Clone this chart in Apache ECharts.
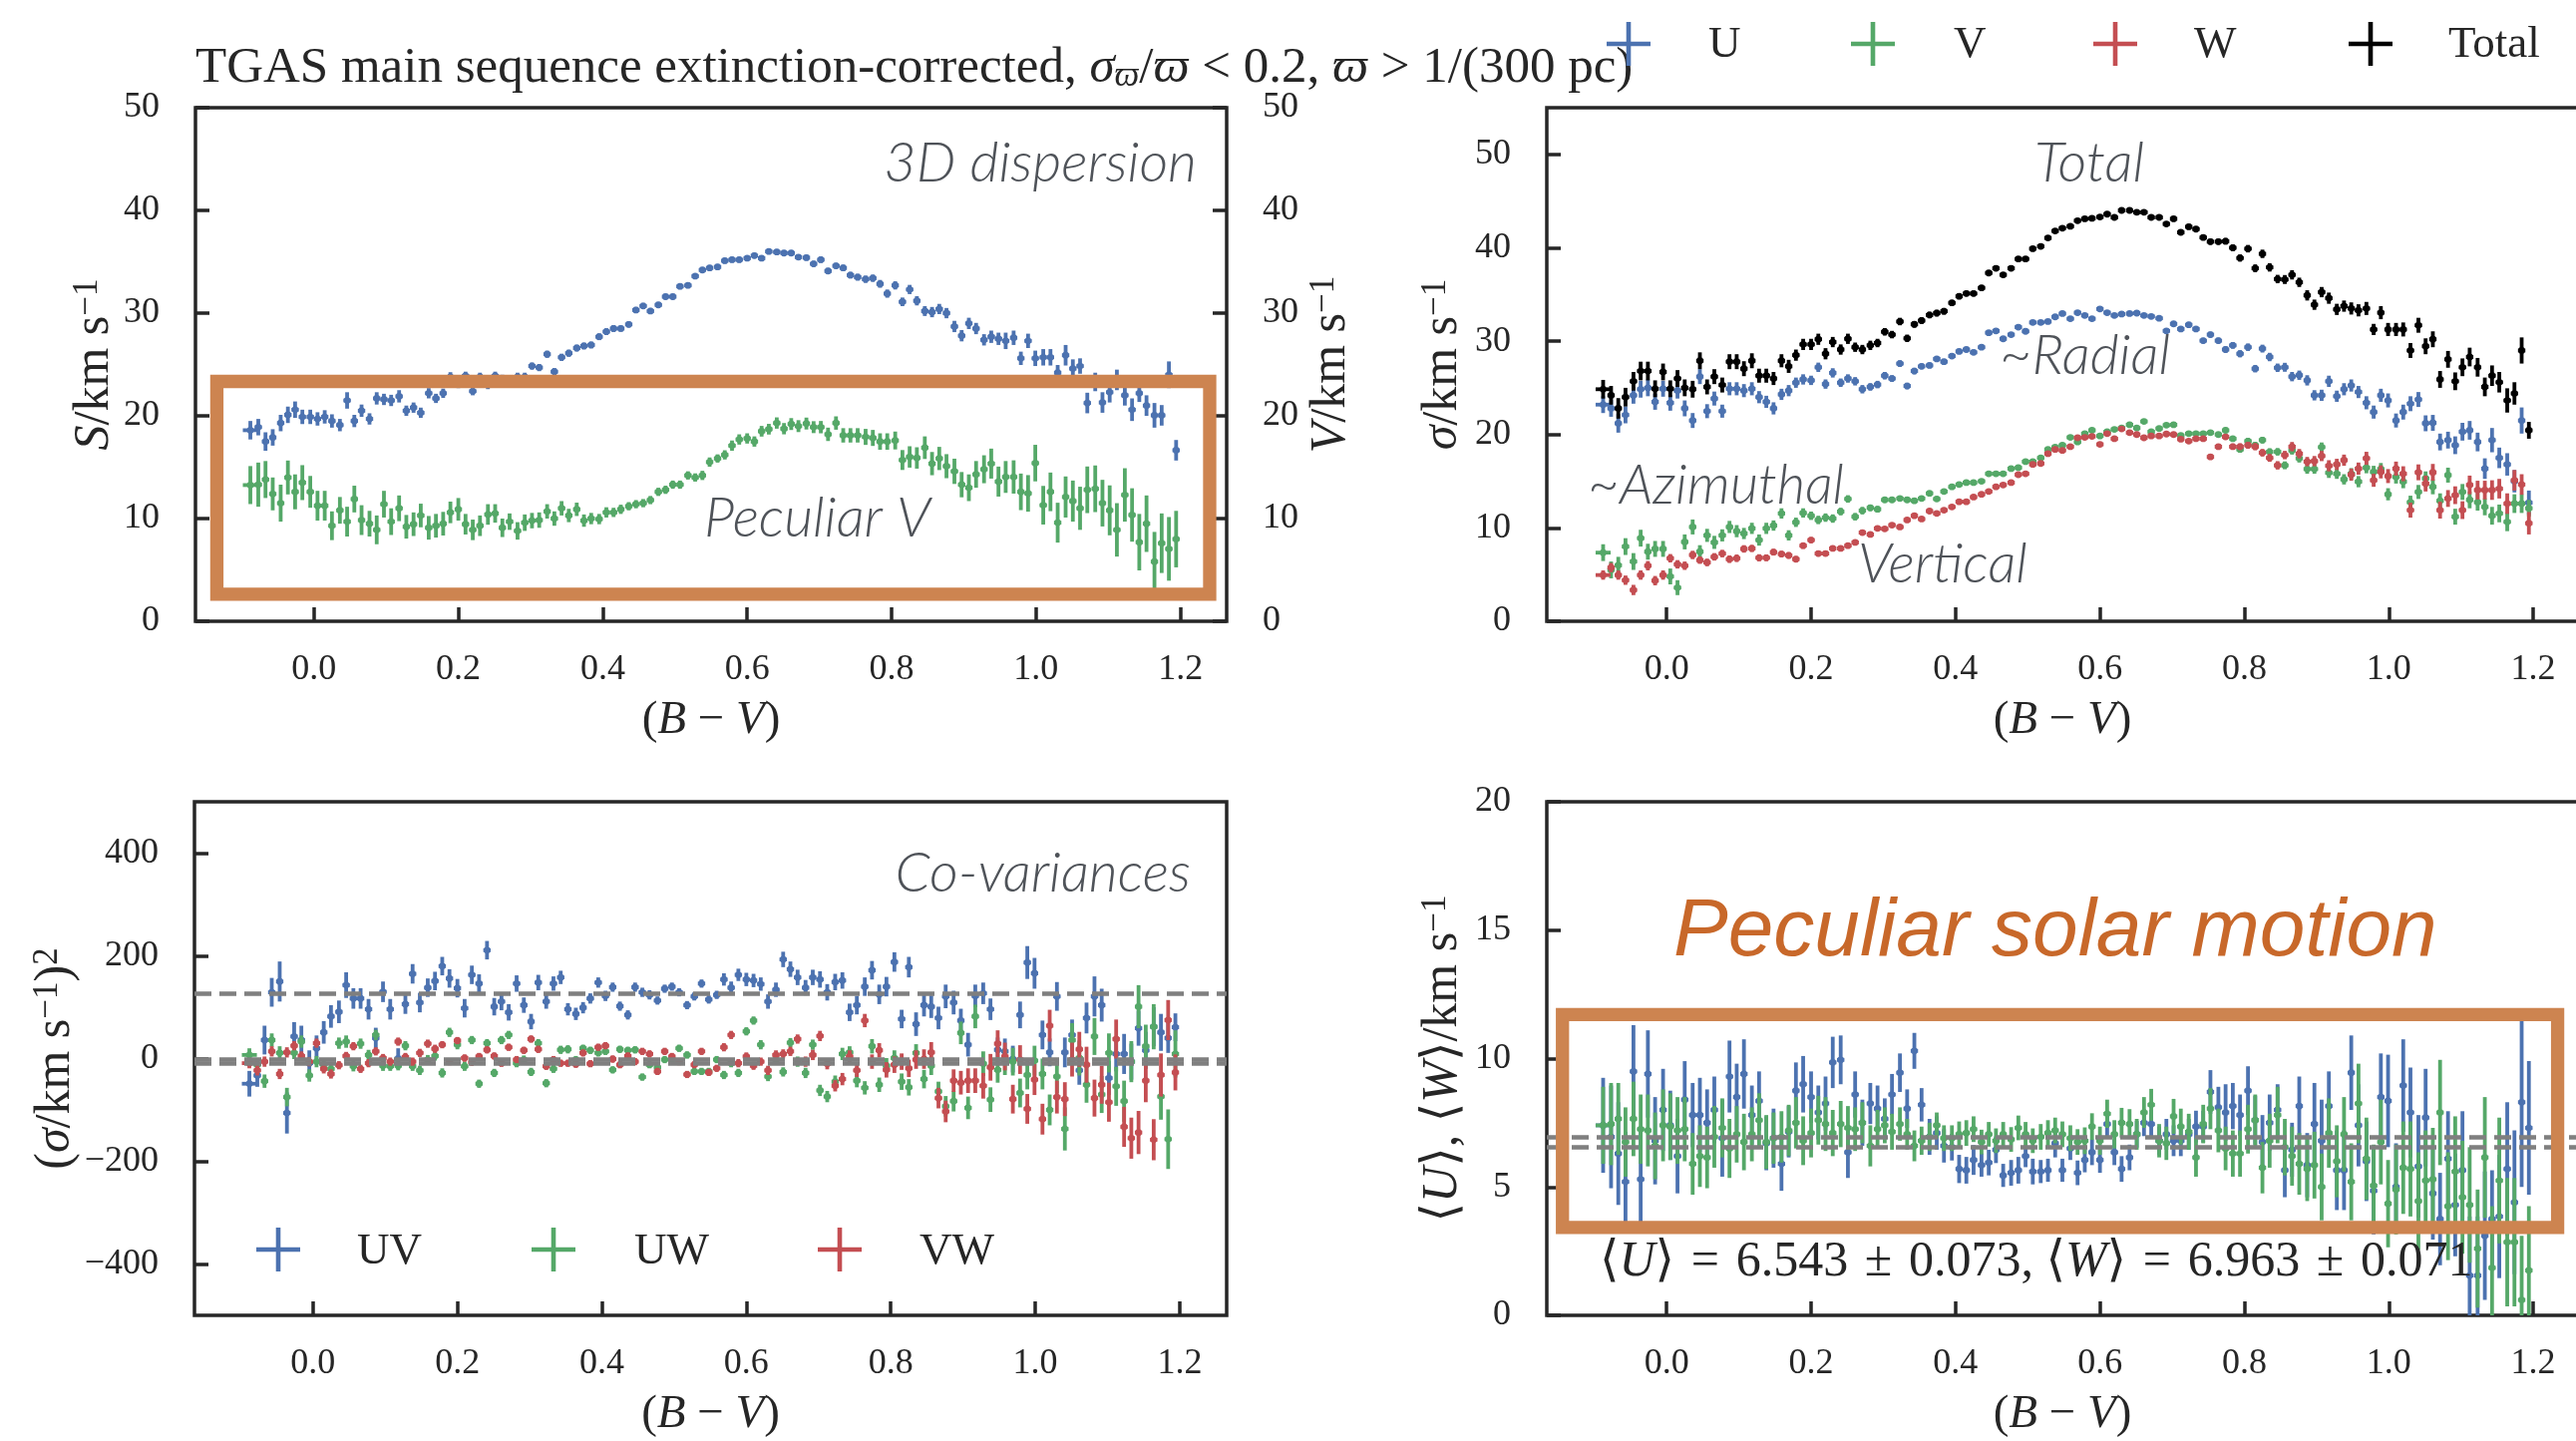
<!DOCTYPE html>
<html><head><meta charset="utf-8">
<script src="https://cdn.jsdelivr.net/npm/echarts@6/dist/echarts.min.js"></script>
<style>html,body{margin:0;padding:0;background:#fff;}#c{width:2583px;height:1445px;}</style>
</head><body><div id="c"></div>
<script>
// ---------------- DATA ----------------
const bvCenters = [-0.088,-0.077,-0.067,-0.057,-0.046,-0.036,-0.026,-0.016,-0.005,0.005,
0.015,0.025,0.036,0.046,0.056,0.066,0.077,0.087,0.097,0.107,
0.118,0.128,0.138,0.148,0.159,0.169,0.179,0.189,0.200,0.210,
0.220,0.230,0.241,0.251,0.261,0.271,0.282,0.292,0.302,0.312,
0.323,0.333,0.343,0.353,0.364,0.374,0.384,0.395,0.405,0.415,
0.425,0.436,0.446,0.456,0.466,0.477,0.487,0.497,0.507,0.518,
0.528,0.538,0.548,0.559,0.569,0.579,0.589,0.600,0.610,0.620,
0.630,0.641,0.651,0.661,0.671,0.682,0.692,0.702,0.712,0.723,
0.733,0.743,0.753,0.764,0.774,0.784,0.794,0.805,0.815,0.825,
0.835,0.846,0.856,0.866,0.876,0.887,0.897,0.907,0.917,0.928,
0.938,0.948,0.958,0.969,0.979,0.989,0.999,1.010,1.020,1.030,
1.041,1.051,1.061,1.071,1.082,1.092,1.102,1.112,1.123,1.133,
1.143,1.153,1.164,1.174,1.184,1.194];
const firstBinHalfWidth = 0.0104;
const binHalfWidth = 0.0051;

// Panel 1: 3D dispersion S and peculiar V
const dispS = [18.6,18.9,17.5,17.9,19.3,20.1,20.6,19.9,19.9,19.7,
19.9,19.5,19.1,21.5,19.5,20.5,19.7,21.7,21.6,21.5,
21.9,20.5,20.8,20.3,22.2,21.7,22.2,23.8,23.1,23.9,
22.4,23.8,23.0,23.9,23.6,23.5,23.8,23.8,24.85,24.7,
26.0,24.3,25.7,26.1,26.6,26.8,26.9,27.7,28.2,28.5,
28.5,28.9,30.3,30.7,30.2,30.8,31.6,31.6,32.6,32.7,
33.6,34.2,34.4,34.5,35.1,35.2,35.2,35.35,35.6,35.35,
36.0,35.95,35.85,35.85,35.45,35.4,34.8,35.2,34.1,34.6,
34.4,33.7,33.5,33.3,33.4,32.85,31.9,32.7,31.1,32.3,
31.2,30.2,30.1,30.4,30.0,28.7,27.8,29.0,28.5,27.4,
27.7,27.5,27.3,27.6,25.6,27.3,25.6,25.7,25.7,24.2,
25.9,24.6,24.85,21.25,23.3,21.3,22.3,23.5,22.0,20.6,
22.2,21.0,20.05,20.05,24.0,16.65];
const dispSErr = [0.9,0.8,0.9,0.8,0.8,0.8,0.8,0.7,0.7,0.65,
0.65,0.65,0.6,0.8,0.6,0.6,0.55,0.6,0.55,0.55,
0.6,0.5,0.5,0.5,0.5,0.45,0.45,0.45,0.4,0.4,
0.4,0.4,0.4,0.4,0.4,0.4,0.4,0.4,0.35,0.35,
0.35,0.35,0.35,0.35,0.33,0.33,0.33,0.33,0.33,0.33,
0.3,0.3,0.3,0.3,0.3,0.28,0.28,0.28,0.28,0.28,
0.28,0.28,0.28,0.28,0.28,0.28,0.28,0.28,0.28,0.28,
0.28,0.28,0.28,0.28,0.28,0.28,0.3,0.3,0.3,0.3,
0.32,0.32,0.33,0.35,0.35,0.38,0.4,0.4,0.42,0.45,
0.45,0.48,0.5,0.5,0.5,0.55,0.55,0.55,0.55,0.55,
0.6,0.6,0.8,0.7,0.65,0.7,0.75,0.8,0.8,0.75,
1.0,0.9,0.75,1.0,0.9,1.0,1.0,1.0,1.0,1.1,
0.85,1.0,1.2,1.0,1.3,1.0];
const pecV = [13.26,13.3,13.8,12.4,11.5,14.0,12.6,13.5,12.6,11.25,
11.25,9.3,10.8,9.7,11.9,9.85,9.5,8.9,11.4,9.7,
11.0,9.2,9.45,10.3,9.1,9.3,9.5,10.6,10.9,9.45,
8.9,9.3,10.4,10.5,9.1,9.7,8.8,9.6,9.8,9.85,
10.7,10.0,11.0,10.3,10.9,9.8,10.0,9.95,10.6,10.6,
10.9,11.2,11.4,11.5,11.8,12.6,12.8,13.3,13.3,14.2,
14.0,14.2,15.5,15.85,16.2,17.1,17.7,17.8,17.5,18.5,
18.7,19.3,18.75,19.2,19.0,19.25,18.9,18.9,18.2,19.3,
18.1,18.1,18.1,17.95,17.85,17.5,17.5,17.6,15.7,16.0,
15.9,16.9,15.35,15.85,15.1,14.6,13.3,13.0,14.3,14.8,
15.35,13.6,14.05,14.05,12.6,12.45,15.4,11.3,12.6,9.6,
12.1,11.7,11.0,12.8,12.9,11.5,10.8,8.9,12.3,10.35,
7.7,9.5,5.8,7.6,7.05,8.0];
const pecVErr = [1.85,2.15,1.8,1.6,1.8,1.65,1.7,1.7,1.55,1.45,
1.45,1.4,1.3,1.45,1.3,1.45,1.25,1.4,1.3,1.3,
1.25,1.15,1.15,1.15,1.15,1.15,1.15,1.05,1.1,1.0,
1.0,1.0,1.0,0.9,0.9,0.8,0.85,0.8,0.75,0.75,
0.7,0.7,0.7,0.65,0.65,0.6,0.55,0.5,0.5,0.45,
0.45,0.4,0.4,0.4,0.4,0.4,0.4,0.4,0.4,0.4,
0.4,0.45,0.45,0.4,0.45,0.5,0.5,0.5,0.5,0.52,
0.52,0.55,0.55,0.58,0.58,0.58,0.58,0.6,0.65,0.65,
0.7,0.7,0.7,0.78,0.78,0.8,0.8,0.87,0.97,1.04,
1.04,1.1,1.13,1.13,1.17,1.23,1.23,1.3,1.3,1.36,
1.46,1.46,1.55,1.62,1.78,1.78,1.78,1.88,1.88,1.94,
2.0,2.0,2.1,2.27,2.27,2.27,2.43,2.6,2.6,2.6,
2.75,2.75,2.9,2.9,3.1,2.75];

// Panel 2: velocity dispersions
const sigmaU = [23.2,22.8,21.2,22.1,24.2,24.85,25.0,23.5,24.9,23.4,
24.7,22.8,21.5,26.2,22.5,23.85,22.5,24.9,24.9,24.7,
24.9,24.0,23.5,22.8,24.3,24.7,25.55,25.9,25.8,27.2,
25.4,26.6,25.55,26.0,25.7,24.85,25.1,25.35,26.3,26.0,
27.6,25.2,26.8,27.3,27.4,28.1,27.8,28.4,28.9,29.1,
28.8,29.35,30.9,31.1,30.25,30.7,31.5,31.05,32.0,32.0,
32.1,32.6,32.95,32.4,33.05,32.75,32.4,33.45,33.05,32.75,
32.9,32.95,33.0,32.75,32.65,32.45,31.1,31.85,31.3,31.75,
31.3,30.05,30.7,30.05,29.1,29.55,28.65,29.35,27.05,29.2,
28.3,27.15,27.2,26.2,26.35,25.8,24.2,24.2,25.7,24.1,
24.85,25.25,24.55,23.4,22.4,24.2,23.65,21.5,22.4,23.3,
23.75,21.2,21.25,19.2,19.4,18.85,20.3,20.45,19.2,16.35,
19.4,17.5,16.8,15.0,21.5,12.7];
const sigmaUErr = [0.9,0.9,1.0,0.9,0.9,0.9,0.9,0.85,0.85,0.85,
0.85,0.85,0.8,0.8,0.75,0.75,0.7,0.7,0.7,0.7,
0.7,0.65,0.65,0.65,0.6,0.6,0.55,0.55,0.5,0.5,
0.5,0.5,0.45,0.45,0.45,0.45,0.4,0.4,0.4,0.35,
0.35,0.35,0.35,0.3,0.3,0.3,0.3,0.3,0.28,0.28,
0.28,0.26,0.26,0.26,0.25,0.25,0.25,0.25,0.25,0.25,
0.25,0.25,0.25,0.25,0.25,0.25,0.25,0.25,0.25,0.25,
0.25,0.25,0.25,0.25,0.25,0.25,0.27,0.28,0.28,0.3,
0.3,0.3,0.32,0.33,0.35,0.35,0.38,0.4,0.4,0.42,
0.45,0.45,0.48,0.5,0.5,0.55,0.55,0.6,0.6,0.6,
0.65,0.65,0.65,0.7,0.7,0.7,0.75,0.75,0.8,0.8,
0.8,0.85,0.85,0.9,0.9,0.95,0.95,1.0,1.0,1.1,
1.3,1.1,1.2,1.2,1.4,1.3];
const sigmaV = [7.35,5.5,6.0,8.0,6.4,8.9,7.45,7.75,7.75,4.8,
3.6,8.5,10.1,7.45,9.2,8.45,9.2,10.1,9.65,9.4,
9.95,8.7,9.95,10.25,11.55,9.2,10.6,11.6,11.3,10.85,
11.1,11.0,11.75,13.1,11.2,11.85,12.15,12.0,13.0,13.0,
13.15,13.0,12.9,13.15,13.7,13.1,13.9,14.4,14.65,14.85,
14.85,15.0,15.8,15.8,15.8,16.35,16.45,17.1,17.1,17.5,
18.4,18.65,18.85,19.7,19.2,20.1,20.45,19.85,20.3,20.55,
20.7,21.05,20.7,21.4,20.3,20.65,21.0,21.05,19.9,20.1,
20.1,20.1,20.2,20.0,20.45,19.55,18.4,19.3,18.85,19.4,
18.15,18.15,16.7,18.3,17.45,16.3,16.3,18.65,15.9,15.8,
15.2,15.8,14.95,16.45,16.0,16.3,13.6,15.45,14.95,12.75,
13.85,15.3,14.4,12.9,15.65,11.2,13.85,13.0,12.75,12.25,
11.3,11.55,10.65,12.6,12.6,12.1];
const sigmaVErr = [0.9,0.9,0.9,0.9,0.9,0.9,0.85,0.85,0.85,0.85,
0.8,0.8,0.8,0.7,0.7,0.7,0.65,0.65,0.65,0.6,
0.6,0.6,0.6,0.55,0.55,0.55,0.5,0.5,0.45,0.45,
0.45,0.45,0.4,0.4,0.4,0.4,0.35,0.35,0.3,0.3,
0.3,0.3,0.3,0.28,0.28,0.28,0.26,0.26,0.25,0.25,
0.25,0.22,0.22,0.22,0.22,0.22,0.22,0.22,0.22,0.22,
0.22,0.22,0.22,0.22,0.22,0.22,0.22,0.22,0.22,0.22,
0.22,0.22,0.22,0.22,0.22,0.22,0.24,0.24,0.25,0.25,
0.26,0.26,0.28,0.28,0.3,0.3,0.32,0.34,0.35,0.36,
0.38,0.4,0.42,0.45,0.45,0.5,0.5,0.5,0.55,0.55,
0.55,0.6,0.6,0.6,0.65,0.65,0.65,0.7,0.7,0.7,
0.75,0.75,0.8,0.8,0.8,0.85,0.85,0.9,0.9,0.9,
0.95,0.95,1.0,1.0,1.0,0.9];
const sigmaW = [4.95,5.75,4.95,4.4,3.35,4.95,5.95,4.35,4.95,6.75,
6.1,5.95,7.1,6.55,6.3,6.9,7.25,6.65,6.75,7.75,
7.8,6.8,6.8,7.4,7.2,7.05,6.65,8.1,8.7,7.25,
7.25,7.8,7.8,8.1,8.45,9.5,9.3,9.95,9.9,10.3,
10.1,10.85,11.3,10.95,11.8,11.55,11.9,12.25,12.8,12.8,
13.3,13.6,13.9,14.4,14.6,14.85,15.7,15.8,16.8,16.9,
17.95,18.4,18.3,18.7,19.65,19.7,19.8,18.95,20.1,19.55,
20.6,20.2,20.0,19.65,19.85,19.85,20.05,20.0,19.5,19.3,
19.55,19.55,17.6,18.7,19.75,18.7,18.7,18.85,18.7,18.05,
17.5,16.7,17.8,18.7,17.95,17.1,17.15,17.7,16.65,16.8,
17.25,15.7,16.35,17.45,15.1,16.0,15.55,16.35,15.8,11.9,
15.95,14.75,15.95,11.9,13.15,13.5,11.9,14.6,14.05,14.05,
14.05,14.2,12.6,15.1,14.65,10.5];
const sigmaWErr = [0.5,0.5,0.5,0.5,0.55,0.5,0.5,0.5,0.5,0.45,
0.45,0.45,0.45,0.4,0.4,0.4,0.4,0.4,0.4,0.4,
0.38,0.38,0.36,0.36,0.35,0.35,0.33,0.33,0.32,0.32,
0.3,0.3,0.3,0.3,0.28,0.28,0.28,0.26,0.25,0.25,
0.24,0.24,0.23,0.23,0.22,0.22,0.22,0.22,0.22,0.22,
0.22,0.2,0.2,0.2,0.2,0.2,0.2,0.2,0.2,0.2,
0.2,0.2,0.2,0.2,0.2,0.2,0.2,0.2,0.2,0.2,
0.2,0.2,0.2,0.2,0.2,0.2,0.22,0.22,0.24,0.25,
0.26,0.28,0.3,0.3,0.32,0.33,0.35,0.36,0.38,0.4,
0.42,0.45,0.45,0.5,0.5,0.5,0.55,0.55,0.6,0.6,
0.6,0.65,0.65,0.7,0.7,0.7,0.75,0.75,0.8,0.8,
0.85,0.85,0.9,0.9,0.9,0.95,0.95,1.0,1.0,1.0,
1.05,1.05,1.1,1.1,1.1,1.2];
const sigmaTotal = [24.85,24.2,22.8,24.0,25.7,26.8,26.8,24.9,26.7,24.9,
26.0,25.0,24.85,27.9,25.1,26.2,25.3,27.8,27.8,27.05,
27.9,26.3,26.3,26.0,27.9,27.3,28.5,29.65,29.65,30.2,
28.65,29.9,29.1,30.25,29.35,29.1,29.55,29.8,31.0,30.7,
32.1,30.3,31.8,32.2,32.8,33.0,33.2,34.1,34.8,35.1,
35.1,35.7,37.3,37.8,37.1,37.8,38.8,38.8,39.9,40.15,
41.05,41.8,42.1,42.3,42.9,43.1,43.15,43.3,43.6,43.25,
44.0,44.0,43.8,43.8,43.25,43.25,42.55,43.1,41.65,42.25,
42.0,41.1,40.65,40.65,40.7,40.0,38.9,39.9,37.8,39.35,
37.9,36.65,36.6,37.1,36.3,34.9,33.9,35.25,34.6,33.4,
33.75,33.5,33.3,33.5,31.25,33.05,31.25,31.25,31.25,29.0,
31.7,29.45,30.2,25.9,28.05,25.7,27.2,28.3,27.2,25.1,
26.3,25.6,23.65,24.4,29.0,20.45];
const sigmaTotalErr = [1.0,1.0,1.1,1.0,1.0,1.0,1.0,0.9,0.9,0.9,
0.9,0.9,0.9,0.9,0.8,0.8,0.8,0.8,0.8,0.8,
0.8,0.75,0.75,0.7,0.7,0.7,0.6,0.6,0.6,0.6,
0.6,0.55,0.55,0.55,0.5,0.5,0.5,0.45,0.4,0.4,
0.4,0.4,0.35,0.35,0.35,0.35,0.35,0.3,0.3,0.3,
0.3,0.3,0.3,0.28,0.28,0.28,0.28,0.28,0.26,0.26,
0.26,0.25,0.25,0.25,0.25,0.25,0.25,0.25,0.25,0.25,
0.25,0.25,0.25,0.25,0.25,0.25,0.25,0.28,0.28,0.3,
0.3,0.3,0.32,0.32,0.35,0.35,0.38,0.4,0.42,0.45,
0.45,0.45,0.48,0.5,0.5,0.55,0.55,0.55,0.6,0.6,
0.6,0.65,0.65,0.7,0.6,0.7,0.7,0.7,0.75,0.8,
0.8,0.85,0.85,0.9,0.9,0.95,0.95,1.0,1.0,1.0,
1.1,1.1,1.3,1.2,1.4,0.9];

// Panel 3: co-variances
const covUV = [-49,-33,36,129,150,-106,43,36,-9,20,
51,82,91,143,117,117,96,40,130,96,
0,106,165,109,138,151,180,156,137,98,
163,146,211,101,111,90,146,104,72,148,
111,146,158,96,87,99,117,148,122,139,
102,85,139,129,124,113,136,140,129,104,
121,146,115,124,154,138,163,154,152,145,
111,134,193,174,158,138,158,154,129,149,
152,90,104,140,172,125,140,188,77,178,
67,104,101,79,121,109,74,27,122,127,
96,17,14,-1,85,187,166,46,12,121,
12,46,-23,79,121,104,-38,9,9,-6,
59,16,62,51,40,61];
const covUVErr = [25,22,28,28,39,40,28,28,25,25,
22,22,22,25,20,20,20,20,20,20,
20,19,19,19,18,18,18,18,18,18,
18,18,18,17,17,16,16,15,15,15,
14,14,13,12,12,11,10,10,10,9,
9,9,9,9,9,8,8,8,8,8,
8,8,8,8,12,12,12,13,13,13,
14,14,15,15,15,15,15,16,16,16,
16,17,18,18,18,19,19,19,18,20,
23,22,22,22,23,23,23,23,22,21,
21,24,25,26,26,32,30,28,27,28,
29,30,28,30,39,32,33,34,39,35,
34,36,38,36,29,27];
const covUW = [7,-12,-44,36,11,-75,11,33,-33,-6,
-12,-20,30,33,-15,29,7,46,-14,-15,
-14,25,-15,-23,-2,5,-28,51,27,-15,
36,-49,30,-28,36,46,-9,-2,-26,30,
-48,-20,17,18,-2,20,16,11,14,-22,
18,16,17,-36,-12,-17,-2,-2,20,7,
-25,-25,-25,-2,-32,-9,-28,53,74,27,
-35,-2,-26,31,-6,-28,27,-62,-74,-45,
9,12,-43,-57,24,-51,-14,1,-45,-56,
11,-40,-14,-64,-93,-83,50,-96,82,-10,
-80,-22,-6,-6,-67,-32,-4,-30,-100,-35,
-137,36,1,-51,43,-70,11,-54,-83,-6,
101,24,62,-74,-157,9];
const covUWErr = [13,13,13,13,13,18,12,12,12,11,
11,11,11,12,10,10,10,10,10,9,
9,9,9,9,9,9,9,9,9,9,
8,8,8,8,8,8,8,8,8,8,
8,8,8,8,7,7,7,7,7,7,
7,7,7,7,7,7,7,7,7,7,
7,7,7,7,8,8,8,8,8,9,
9,9,9,9,10,10,10,11,11,12,
12,12,13,13,14,14,15,15,16,16,
17,18,18,19,20,20,22,22,23,24,
24,25,26,27,28,28,29,30,30,32,
42,33,34,35,36,36,38,38,40,40,
42,42,44,45,58,46];
const covVW = [-9,-23,-6,14,-30,12,25,5,-6,30,
-20,-30,-13,5,24,-20,-9,14,1,-6,
33,3,-6,11,29,19,27,-6,35,1,
-7,4,17,5,-9,22,-2,16,38,18,
-15,-2,-9,-9,-11,11,-10,22,25,-1,
-12,5,-6,14,9,-25,14,4,-6,-31,
-12,14,-27,-19,22,46,-9,4,-14,-6,
-23,7,9,14,38,-6,7,44,-10,-53,
-40,4,-23,74,-6,16,-22,-12,-6,-19,
-2,-1,12,-77,-103,-43,-47,-43,-43,-53,
-17,29,4,-79,-2,-98,-41,-118,64,-75,
-79,-2,18,-12,-77,-51,-85,38,-133,-155,
-144,-43,-158,-32,75,-27];
const covVWErr = [10,10,10,10,10,10,9,9,9,9,
9,9,8,8,8,8,8,8,8,8,
8,8,8,8,8,8,7,7,7,7,
7,7,7,7,7,7,7,7,7,7,
7,7,7,7,7,7,7,7,7,7,
7,7,7,7,7,7,7,7,7,7,
7,7,7,7,8,8,8,8,8,8,
9,9,9,9,9,10,10,10,11,11,
12,12,13,13,14,14,15,16,16,17,
18,19,20,20,21,22,23,24,24,25,
26,26,27,28,28,29,30,30,31,32,
33,33,34,35,36,37,38,38,39,40,
42,42,40,42,39,35];
const covMeanLines = [126, -1, -9];

// Panel 4: peculiar solar motion
const meanU = [7.4,6.95,6.3,5.2,9.5,5.3,9.4,6.8,8.0,7.4,
6.2,8.4,7.8,7.8,7.5,8.0,6.9,9.3,8.5,9.4,
7.8,8.35,6.7,6.9,5.9,7.15,8.75,9.0,8.5,7.9,
8.25,9.85,9.95,6.35,8.6,7.5,8.25,8.05,7.65,8.6,
9.45,8.05,10.3,8.2,6.95,7.1,6.6,6.55,5.7,5.65,
6.05,5.85,5.95,6.45,5.45,5.55,5.65,6.2,5.6,5.6,
5.65,6.7,5.65,6.5,5.55,6.05,6.35,6.05,7.45,6.35,
5.7,6.15,7.05,7.5,7.45,6.8,7.05,6.8,6.8,7.05,
7.35,7.35,8.7,8.1,7.9,8.15,7.8,8.75,7.6,6.75,
7.5,8.0,5.65,6.45,8.15,5.85,7.45,6.8,8.15,5.65,
5.65,9.45,7.4,6.0,4.85,8.5,8.35,5.0,8.95,7.9,
5.8,7.7,4.75,3.75,6.1,4.3,5.65,1.55,1.55,3.1,
3.75,3.85,5.7,4.4,8.3,7.3];
const meanUErr = [1.85,2.0,2.0,1.95,1.8,1.95,1.7,1.7,1.6,1.35,
1.45,1.5,1.25,1.45,1.3,1.3,1.5,1.4,1.3,1.35,
1.15,1.15,1.05,1.15,1.05,1.0,1.1,1.1,1.0,1.05,
1.05,1.0,0.95,1.0,0.9,0.9,0.8,0.9,0.8,0.8,
0.75,0.75,0.7,0.65,0.7,0.65,0.65,0.52,0.55,0.52,
0.58,0.45,0.5,0.52,0.45,0.5,0.52,0.43,0.5,0.45,
0.45,0.55,0.45,0.45,0.48,0.48,0.5,0.5,0.5,0.5,
0.5,0.5,0.52,0.52,0.55,0.55,0.6,0.6,0.6,0.6,
0.62,0.62,0.85,0.8,1.1,0.9,0.8,0.95,0.95,1.05,
1.1,1.0,1.05,1.05,1.15,1.25,1.6,1.6,1.35,1.55,
1.55,1.45,1.6,1.55,1.7,1.7,1.8,1.7,1.8,1.75,
2.0,1.9,1.8,1.8,1.85,2.0,2.3,2.3,2.3,2.5,
1.9,2.4,2.6,2.8,3.3,2.6];
const meanW = [7.4,7.45,7.65,6.75,7.65,7.25,7.2,6.6,7.4,7.35,
7.2,7.25,5.9,6.2,6.15,6.95,7.3,6.5,7.05,6.75,
7.05,7.6,6.75,6.9,6.95,7.2,7.5,6.8,7.1,7.6,
7.45,7.1,7.45,7.3,7.25,7.5,6.6,7.25,7.4,7.15,
7.45,7.05,6.6,6.8,6.95,7.4,6.9,6.9,7.05,7.1,
7.25,6.75,7.05,6.8,7.05,6.85,7.3,7.05,6.8,6.95,
7.1,7.2,7.05,6.9,6.75,6.8,7.35,6.8,7.85,7.05,
7.5,7.45,7.05,7.9,8.2,6.8,6.7,7.75,7.35,7.15,
6.15,7.45,8.05,7.2,6.5,6.3,6.3,7.25,7.6,5.75,
6.8,7.8,6.55,6.2,5.9,5.7,5.85,5.0,7.1,6.0,
7.05,5.2,8.25,6.1,5.05,6.75,4.35,4.9,5.75,5.7,
4.45,5.25,5.3,7.9,4.25,5.6,4.6,4.3,2.6,6.15,
1.85,5.25,2.85,2.85,0.6,1.75];
const meanWErr = [1.5,1.6,1.4,1.35,1.45,1.35,1.4,1.3,1.4,1.3,
1.3,1.25,1.2,1.2,1.2,1.2,1.15,1.15,1.1,1.1,
1.05,1.05,1.05,1.0,1.0,1.0,1.0,0.95,0.95,0.95,
1.05,0.9,0.9,0.85,0.85,0.8,0.8,0.75,0.7,0.7,
0.65,0.6,0.6,0.55,0.55,0.5,0.5,0.5,0.5,0.5,
0.5,0.48,0.48,0.48,0.48,0.48,0.48,0.48,0.48,0.5,
0.5,0.5,0.5,0.5,0.5,0.52,0.52,0.55,0.55,0.55,
0.58,0.58,0.6,0.6,0.62,0.65,0.65,0.68,0.7,0.7,
0.75,0.75,0.8,0.85,0.85,0.9,0.9,0.95,1.0,1.0,
1.05,1.1,1.1,1.15,1.2,1.25,1.3,1.3,1.35,1.4,
1.45,1.5,1.55,1.6,1.6,1.65,1.7,1.75,1.8,1.85,
1.9,1.95,2.0,2.05,2.1,2.15,2.2,2.25,2.3,2.35,
2.4,2.45,2.5,2.5,2.5,2.5];
const solarMeanLines = [6.543, 6.963];

const bvTicks = [0, 0.2, 0.4, 0.6, 0.8, 1.0, 1.2];
const dispTicks = [0, 10, 20, 30, 40, 50];
const covTicks = [-400, -200, 0, 200, 400];
const meanTicks = [0, 5, 10, 15, 20];

// ---------------- STYLE ----------------
const INK = '#262626';
const BLUE = '#4C72B0', GREEN = '#55A868', RED = '#C44E52', BLACK = '#000000';
const ORANGE = '#CD8450', ORANGE_TEXT = '#C8682A', NOTE = '#4f5359', REFGRAY = '#7f7f7f';
const SERIF = '"Liberation Serif", "DejaVu Serif", serif';
const SANS = 'Lato, "Liberation Sans", sans-serif';
const HELV = '"Liberation Sans", Arial, sans-serif';
const BAR_W = 3.8, DOT_R = 3.4;

function serifRich(fs) {
  return {
    n: {fontFamily: SERIF, fontSize: fs, color: INK},
    i: {fontFamily: SERIF, fontSize: fs, fontStyle: 'italic', color: INK},
    sup: {fontFamily: SERIF, fontSize: Math.round(fs * 0.7), color: INK, verticalAlign: 'top'},
    sub: {fontFamily: SERIF, fontSize: Math.round(fs * 0.7), color: INK, verticalAlign: 'bottom'}
  };
}
const X_NAME = '{n|(}{i|B}{n| − }{i|V}{n|)}';

function xAxisFor(gridIndex, min, max) {
  return {
    type: 'value', gridIndex, min, max,
    axisLine: {show: false, onZero: false},
    axisTick: {show: true, inside: true, length: 14, lineStyle: {color: INK, width: 3.5}, customValues: bvTicks},
    axisLabel: {show: true, customValues: bvTicks, formatter: v => Number(v).toFixed(1), margin: 31,
      fontFamily: SERIF, fontSize: 36, color: INK},
    splitLine: {show: false},
    name: X_NAME, nameLocation: 'middle', nameGap: 76,
    nameTextStyle: {rich: serifRich(47)}
  };
}
function yAxisFor(gridIndex, min, max, ticks, name, nameGap, position, fmt) {
  return {
    type: 'value', gridIndex, min, max, position: position || 'left',
    axisLine: {show: false, onZero: false},
    axisTick: {show: true, inside: true, length: 14, lineStyle: {color: INK, width: 3.5}, customValues: ticks},
    axisLabel: {show: true, customValues: ticks, margin: 36, fontFamily: SERIF, fontSize: 36, color: INK,
      formatter: fmt || (v => String(v))},
    splitLine: {show: false},
    name, nameLocation: 'middle', nameGap, nameRotate: 90,
    nameTextStyle: {rich: serifRich(50)}
  };
}

function errSeries(name, xi, yi, vals, errs, color, z) {
  const n = Math.min(bvCenters.length, vals.length, errs.length);
  const data = [];
  for (let k = 0; k < n; k++) data.push([bvCenters[k], vals[k], errs[k], k === 0 ? firstBinHalfWidth : binHalfWidth]);
  return {
    type: 'custom', name, xAxisIndex: xi, yAxisIndex: yi, clip: true, silent: true, z: z || 2,
    encode: {x: 0, y: 1}, data,
    renderItem: function (params, api) {
      const x = api.value(0), y = api.value(1), e = api.value(2), h = api.value(3);
      const c = api.coord([x, y]);
      const t = api.coord([x, y + e]);
      const b = api.coord([x, y - e]);
      const l = api.coord([x - h, y]);
      const r = api.coord([x + h, y]);
      return {type: 'group', children: [
        {type: 'line', shape: {x1: c[0], y1: t[1], x2: c[0], y2: b[1]}, style: {stroke: color, lineWidth: BAR_W}},
        {type: 'line', shape: {x1: l[0], y1: c[1], x2: r[0], y2: c[1]}, style: {stroke: color, lineWidth: BAR_W}},
        {type: 'circle', shape: {cx: c[0], cy: c[1], r: DOT_R}, style: {fill: color}}
      ]};
    }
  };
}
function refLines(xi, yi, values) {
  return {
    type: 'line', xAxisIndex: xi, yAxisIndex: yi, data: [], z: 6, silent: true,
    markLine: {silent: true, symbol: 'none', animation: false, label: {show: false},
      lineStyle: {color: REFGRAY, width: 4.7, type: [17, 8]},
      data: values.map(v => ({yAxis: v}))}
  };
}

const gridBase = {show: true, borderColor: INK, borderWidth: 3.5, backgroundColor: 'transparent', containLabel: false, outerBoundsMode: 'none'};
const minusFmt = v => (v < 0 ? '\u2212' + Math.abs(v) : String(v));

const option = {
  animation: false,
  backgroundColor: '#ffffff',
  grid: [
    Object.assign({left: 196, top: 108, width: 1034, height: 515}, gridBase),
    Object.assign({left: 1551, top: 108, width: 1034, height: 515}, gridBase),
    Object.assign({left: 195, top: 804, width: 1035, height: 515}, gridBase),
    Object.assign({left: 1551, top: 804, width: 1034, height: 515}, gridBase)
  ],
  xAxis: [
    xAxisFor(0, -0.164, 1.264),
    xAxisFor(1, -0.166, 1.262),
    xAxisFor(2, -0.164, 1.265),
    xAxisFor(3, -0.166, 1.262)
  ],
  yAxis: [
    yAxisFor(0, 0, 50, dispTicks, '{i|S}{n|/km s}{sup|−1}', 73),
    yAxisFor(0, 0, 50, dispTicks, '{i|V}{n|/km s}{sup|−1}', 80, 'right'),
    yAxisFor(1, 0, 55, dispTicks.slice(), '{i|σ}{n|/km s}{sup|−1}', 79),
    yAxisFor(2, -500, 500, covTicks, '{n|(}{i|σ}{n|/km s}{sup|−1}{n|)}{sup|2}', 104, 'left', minusFmt),
    yAxisFor(3, 0, 20, meanTicks, '{n|⟨}{i|U}{n|⟩, ⟨}{i|W}{n|⟩/km s}{sup|−1}', 79)
  ],
  series: [
    errSeries('S', 0, 0, dispS, dispSErr, BLUE),
    errSeries('Peculiar V', 0, 0, pecV, pecVErr, GREEN),
    errSeries('U', 1, 2, sigmaU, sigmaUErr, BLUE),
    errSeries('V', 1, 2, sigmaV, sigmaVErr, GREEN),
    errSeries('W', 1, 2, sigmaW, sigmaWErr, RED),
    errSeries('Total', 1, 2, sigmaTotal, sigmaTotalErr, BLACK),
    errSeries('UV', 2, 3, covUV, covUVErr, BLUE),
    errSeries('UW', 2, 3, covUW, covUWErr, GREEN),
    errSeries('VW', 2, 3, covVW, covVWErr, RED),
    refLines(2, 3, covMeanLines),
    errSeries('<U>', 3, 4, meanU, meanUErr, BLUE),
    errSeries('<W>', 3, 4, meanW, meanWErr, GREEN),
    refLines(3, 4, solarMeanLines)
  ]
};

const chart = echarts.init(document.getElementById('c'), null, {renderer: 'canvas', width: 2583, height: 1445});
chart.setOption(option);

// ---------------- ANNOTATIONS ----------------
const highlightBoxes = [
  {seriesIndex: 0, x0: -0.1344, x1: 1.2405, y0: 2.63, y1: 23.35},
  {seriesIndex: 10, x0: -0.1443, x1: 1.2338, y0: 3.42, y1: 11.71}
];
const graphics = [];
highlightBoxes.forEach(b => {
  const p1 = chart.convertToPixel({seriesIndex: b.seriesIndex}, [b.x0, b.y1]);
  const p2 = chart.convertToPixel({seriesIndex: b.seriesIndex}, [b.x1, b.y0]);
  graphics.push({type: 'rect', z: 100, silent: true,
    shape: {x: p1[0], y: p1[1], width: p2[0] - p1[0], height: p2[1] - p1[1]},
    style: {fill: 'none', stroke: ORANGE, lineWidth: 13.3}});
});
function txt(text, x, y, align, font, fill, rich) {
  const st = {text, x, y, font, fill, align, textAlign: align, verticalAlign: 'middle', textVerticalAlign: 'middle'};
  if (rich) st.rich = rich;
  return {type: 'text', z: 101, silent: true, style: st};
}
const noteFont = 'italic 300 56px ' + SANS;
graphics.push(txt('3D dispersion', 1200, 164, 'right', noteFont, NOTE));
graphics.push(txt('Peculiar V', 706, 520, 'left', noteFont, NOTE));
graphics.push(txt('Total', 2040, 164, 'left', noteFont, NOTE));
graphics.push(txt('~Radial', 2005, 357, 'left', noteFont, NOTE));
graphics.push(txt('~Azimuthal', 1592, 487, 'left', 'italic 300 55px ' + SANS, NOTE));
graphics.push(txt('Vertical', 1863, 566, 'left', noteFont, NOTE));
graphics.push(txt('Co-variances', 1194, 876, 'right', noteFont, NOTE));
graphics.push(txt('Peculiar solar motion', 1678, 935, 'left', 'italic 400 82px ' + HELV, ORANGE_TEXT));

const titleRich = {
  n: {fontFamily: SERIF, fontSize: 51, color: INK},
  i: {fontFamily: SERIF, fontSize: 51, fontStyle: 'italic', color: INK},
  sub: {fontFamily: SERIF, fontSize: 35, fontStyle: 'italic', color: INK, verticalAlign: 'bottom'}
};
graphics.push(txt('{n|TGAS main sequence extinction-corrected, }{i|σ}{sub|ϖ}{n|/}{i|ϖ}{n| < 0.2, }{i|ϖ}{n| > 1/(300 pc)}',
  196, 69, 'left', '51px ' + SERIF, INK, titleRich));

const eqRich = {
  n: {fontFamily: SERIF, fontSize: 50, color: INK},
  i: {fontFamily: SERIF, fontSize: 50, fontStyle: 'italic', color: INK}
};
const SP = '\u2004';
graphics.push(txt('{n|⟨}{i|U}{n|⟩' + SP + '=' + SP + '6.543' + SP + '±' + SP + '0.073, ⟨}{i|W}{n|⟩' + SP + '=' + SP + '6.963' + SP + '±' + SP + '0.071}',
  1604, 1266, 'left', '50px ' + SERIF, INK, eqRich));

// legends
function plusMark(cx, cy, color) {
  return [
    {type: 'line', z: 101, silent: true, shape: {x1: cx - 22, y1: cy, x2: cx + 22, y2: cy}, style: {stroke: color, lineWidth: 4.6}},
    {type: 'line', z: 101, silent: true, shape: {x1: cx, y1: cy - 22, x2: cx, y2: cy + 22}, style: {stroke: color, lineWidth: 4.6}}
  ];
}
const legendTop = [
  {label: 'U', color: BLUE, mx: 1633, tx: 1713},
  {label: 'V', color: GREEN, mx: 1878, tx: 1959},
  {label: 'W', color: RED, mx: 2121, tx: 2200},
  {label: 'Total', color: BLACK, mx: 2377, tx: 2455}
];
legendTop.forEach(it => {
  plusMark(it.mx, 44, it.color).forEach(e => graphics.push(e));
  graphics.push(txt(it.label, it.tx, 45, 'left', '45px ' + SERIF, INK));
});
const legendCov = [
  {label: 'UV', color: BLUE, mx: 279, tx: 358},
  {label: 'UW', color: GREEN, mx: 555, tx: 636},
  {label: 'VW', color: RED, mx: 842, tx: 922}
];
legendCov.forEach(it => {
  plusMark(it.mx, 1253, it.color).forEach(e => graphics.push(e));
  graphics.push(txt(it.label, it.tx, 1255, 'left', '45px ' + SERIF, INK));
});

chart.setOption({graphic: graphics});
</script></body></html>
